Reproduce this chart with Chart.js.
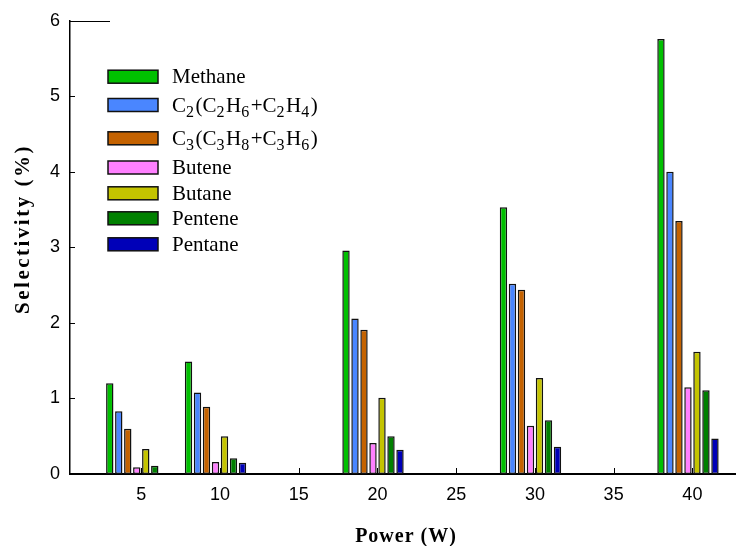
<!DOCTYPE html>
<html>
<head>
<meta charset="utf-8">
<title>Selectivity vs Power</title>
<script src="https://cdn.jsdelivr.net/npm/chart.js@4.4.1/dist/chart.umd.min.js"></script>
<style>
  html, body { margin: 0; padding: 0; background: #fff; }
  #wrap { width: 736px; height: 546px; }
</style>
</head>
<body>
<div id="wrap"><canvas id="selectivityChart" width="736" height="546"></canvas></div>
<script>
// Product selectivity (%) at each plasma power (W)
const powers = [5, 10, 20, 30, 40];
const methane = [1.20, 1.49, 2.96, 3.53, 5.76];
const c2 = [0.83, 1.08, 2.06, 2.52, 4.00];
const c3 = [0.60, 0.89, 1.91, 2.44, 3.35];
const butene = [0.09, 0.16, 0.41, 0.64, 1.15];
const butane = [0.33, 0.50, 1.01, 1.27, 1.62];
const pentene = [0.11, 0.21, 0.50, 0.71, 1.11];
const pentane = [null, 0.15, 0.32, 0.36, 0.47];

const productNames = ['Methane', 'C₂(C₂H₆+C₂H₄)', 'C₃(C₃H₈+C₃H₆)', 'Butene', 'Butane', 'Pentene', 'Pentane'];
const productValues = [methane, c2, c3, butene, butane, pentene, pentane];
const productColors = ['#00c000', '#4a86ff', '#c46200', '#ff80ff', '#c4c400', '#008000', '#0000b8'];

const xTicks = [5, 10, 15, 20, 25, 30, 35, 40];
const yTicks = [0, 1, 2, 3, 4, 5, 6];

const X_MIN = 0.48, X_MAX = 42.77;
const GROUP_SHIFT = 0.28;   // groups sit slightly left of their tick

const SANS = '"Liberation Sans", Arial, sans-serif';
const SERIF = '"Liberation Serif", "Times New Roman", serif';

// Tick marks point into the plot, so they are drawn by hand
const inwardTicks = {
  id: 'inwardTicks',
  beforeDatasetsDraw(chart) {
    const { ctx, chartArea, scales } = chart;
    ctx.save();
    ctx.strokeStyle = '#000';
    ctx.lineWidth = 1;
    scales.x.ticks.forEach(t => {
      const px = Math.round(scales.x.getPixelForValue(t.value)) + 0.5;
      ctx.beginPath();
      ctx.moveTo(px, chartArea.bottom);
      ctx.lineTo(px, chartArea.bottom - 6);
      ctx.stroke();
    });
    scales.y.ticks.forEach(t => {
      const py = Math.round(scales.y.getPixelForValue(t.value)) + 0.5;
      ctx.beginPath();
      ctx.moveTo(chartArea.left, py);
      ctx.lineTo(chartArea.left + 5, py);
      ctx.stroke();
    });
    // short cap at the top of the y axis
    const top = Math.round(chartArea.top) + 0.5;
    ctx.beginPath();
    ctx.moveTo(chartArea.left, top);
    ctx.lineTo(chartArea.left + 40, top);
    ctx.stroke();
    ctx.restore();
  }
};

// Draws text where unicode subscript digits are set small and lowered
const SUBS = '₀₁₂₃₄₅₆₇₈₉';
function drawRich(ctx, text, x, y, size, subSize) {
  const runs = [];
  for (const ch of text) {
    const k = SUBS.indexOf(ch);
    const sub = k >= 0;
    const c = sub ? String(k) : ch;
    const last = runs[runs.length - 1];
    if (last && last.sub === sub) last.text += c;
    else runs.push({ sub, text: c });
  }
  let cx = x;
  runs.forEach(r => {
    ctx.font = (r.sub ? subSize : size) + 'px ' + SERIF;
    ctx.fillText(r.text, cx, r.sub ? y + 5 : y);
    cx += ctx.measureText(r.text).width + (r.sub ? 1.5 : 0);
  });
}

const boxLegend = {
  id: 'boxLegend',
  afterDraw(chart, args, opts) {
    const { ctx } = chart;
    ctx.save();
    ctx.textAlign = 'left';
    ctx.textBaseline = 'alphabetic';
    chart.data.datasets.forEach((ds, i) => {
      const cy = opts.rows[i];
      ctx.fillStyle = ds.backgroundColor;
      ctx.fillRect(opts.boxX, cy - opts.boxH / 2, opts.boxW, opts.boxH);
      ctx.strokeStyle = '#111';
      ctx.lineWidth = 1.5;
      ctx.strokeRect(opts.boxX, cy - opts.boxH / 2, opts.boxW, opts.boxH);
      ctx.fillStyle = '#000';
      drawRich(ctx, ds.label, opts.textX, cy + 6.5, 21, 16);
    });
    ctx.restore();
  }
};

const axisTitles = {
  id: 'axisTitles',
  afterDraw(chart) {
    const { ctx, chartArea } = chart;
    ctx.save();
    ctx.fillStyle = '#000';
    ctx.textAlign = 'center';
    ctx.textBaseline = 'alphabetic';
    ctx.font = 'bold 20px ' + SERIF;
    ctx.letterSpacing = '1px';
    ctx.fillText('Power (W)', (chartArea.left + chartArea.right) / 2 + 3, 542);
    ctx.translate(29, 229);
    ctx.rotate(-Math.PI / 2);
    ctx.font = 'bold 21px ' + SERIF;
    ctx.letterSpacing = '2.5px';
    ctx.fillText('Selectivity (%)', 0, 0);
    ctx.restore();
  }
};

const datasets = productNames.map((name, i) => ({
  label: name,
  data: powers.map((p, j) => ({ x: p, y: productValues[i][j] })),
  backgroundColor: productColors[i],
  borderColor: '#111',
  borderWidth: 1.5,
  borderSkipped: false,
  xAxisID: 'xb',
  yAxisID: 'y',
  categoryPercentage: 0.8,
  barPercentage: 0.82
}));

new Chart(document.getElementById('selectivityChart'), {
  type: 'bar',
  data: { datasets },
  options: {
    responsive: false,
    animation: false,
    layout: { padding: { top: 18, right: 0, bottom: 0, left: 0 } },
    plugins: {
      legend: { display: false },
      tooltip: { enabled: false },
      boxLegend: {
        rows: [76.7, 105, 138.3, 167.5, 193.3, 218.3, 244.3],
        boxX: 108, boxW: 50, boxH: 13, textX: 172
      }
    },
    scales: {
      x: {
        type: 'linear',
        position: 'bottom',
        offset: false,
        min: X_MIN,
        max: X_MAX,
        afterBuildTicks: s => { s.ticks = xTicks.map(v => ({ value: v })); },
        afterFit: s => { s.height = 72; },
        ticks: { color: '#000', font: { family: SANS, size: 18 }, padding: 10, autoSkip: false, maxRotation: 0 },
        grid: { display: false, drawTicks: false, offset: false },
        border: { display: true, color: '#000', width: 2 }
      },
      // bars are placed on this hidden copy of the power axis
      xb: {
        type: 'linear',
        display: false,
        offset: false,
        min: X_MIN + GROUP_SHIFT,
        max: X_MAX + GROUP_SHIFT,
        afterBuildTicks: s => { s.ticks = xTicks.map(v => ({ value: v })); },
        grid: { offset: false }
      },
      y: {
        type: 'linear',
        position: 'left',
        min: 0,
        max: 6,
        afterBuildTicks: s => { s.ticks = yTicks.map(v => ({ value: v })); },
        afterFit: s => { s.width = 70; },
        ticks: { color: '#000', font: { family: SANS, size: 18 }, padding: 10 },
        grid: { display: false, drawTicks: false },
        border: { display: true, color: '#000', width: 1.5 }
      }
    }
  },
  plugins: [inwardTicks, boxLegend, axisTitles]
});
</script>
</body>
</html>
